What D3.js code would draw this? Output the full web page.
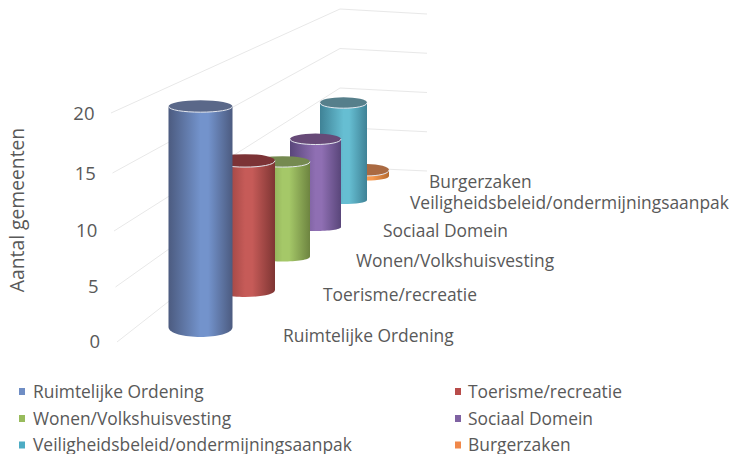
<!DOCTYPE html>
<html><head><meta charset="utf-8">
<script src="https://cdn.jsdelivr.net/npm/d3@7"></script>
<style>html,body{margin:0;padding:0;background:#fff}svg{display:block}text{font-family:"Open Sans",sans-serif;fill:#595959}</style>
</head><body><svg id="c" width="732" height="454"></svg>
<script>
const categories=["Ruimtelijke Ordening","Toerisme/recreatie","Wonen/Volkshuisvesting","Sociaal Domein","Veiligheidsbeleid/ondermijningsaanpak","Burgerzaken"];
const values=[20,12.5,10,10,12,0.8];
const ticks=[0,5,10,15,20];
const edgeColors=["#4c5b80","#7e3533","#6d8440","#59467a","#3f8296","#b56a30"];
const midColors=["#7393cc","#c65b58","#a5c868","#8f6fb3","#66bed2","#f79a50"];
const topColors=["#5a6889","#7c3336","#758a50","#674a78","#567f8b","#aa6a42"];
const legendSwatch=["#6f8dc4","#b84c4a","#98bb5c","#7f62a2","#4dacc4","#f0884a"];

const svg=d3.select("#c"),idx=categories.map((_,i)=>i);
const cx=d3.scaleOrdinal(idx,[200.5,245,282.5,315.5,343.5,367]);
const rx=d3.scaleOrdinal(idx,[32,30,27.5,25.5,23.5,22]);
const base=d3.scaleOrdinal(idx,[327,290,256.5,227,200,176]);
const ryBottom=d3.scaleOrdinal(idx,[10,7,5,4,4,4.5]);
const ryTop=d3.scaleOrdinal(idx,[6,6.5,5.5,5.5,5.5,6]);
const unit=i=>rx(i)*0.345;

const frontY=d3.scaleLinear(ticks,[342,287,231,173,113]);
const frontX=d3.scaleLinear([0,20],[117,111]);
const backY=d3.scaleLinear([0,20],[167,9]);
const wallY=d3.scaleLinear([0,20],[171,14]);
const backX=340,wallX=427;
const grid=svg.append("g").attr("fill","none").attr("stroke","#e8e8e8").attr("stroke-width",1);
ticks.forEach(t=>grid.append("path").attr("d",d3.line()([[frontX(t),frontY(t)],[backX,backY(t)],[wallX,wallY(t)]])));

const labelY=d3.scaleLinear(ticks,[342,287,231,174,114]);
const labelX=d3.scaleLinear([0,20],[100,94.5]);
svg.append("g").selectAll("text").data(ticks).join("text")
  .attr("x",labelX).attr("y",labelY).attr("dy","0.35em").attr("text-anchor","end")
  .attr("font-size",18.5).text(d=>d);
svg.append("text").attr("transform","translate(24,210) rotate(-90)").attr("text-anchor","middle").attr("font-size",19.3).text("Aantal gemeenten");

const defs=svg.append("defs");
idx.forEach(i=>{
  const g=defs.append("linearGradient").attr("id","g"+i).attr("x1",0).attr("x2",1).attr("y1",0).attr("y2",0);
  [[0,edgeColors[i]],[.5,midColors[i]],[.62,midColors[i]],[1,edgeColors[i]]].forEach(([o,c])=>g.append("stop").attr("offset",o).attr("stop-color",c));
});
// Far to near, so near cylinders cover the far ones
idx.slice().reverse().forEach(i=>{
  const c=cx(i),r=rx(i),b=base(i),t=b-values[i]*unit(i),rb=ryBottom(i),rt=ryTop(i);
  const p=d3.path();
  p.moveTo(c-r,t);p.lineTo(c-r,b);
  p.bezierCurveTo(c-r,b+rb*1.33,c+r,b+rb*1.33,c+r,b);
  p.lineTo(c+r,t);p.closePath();
  svg.append("path").attr("d",p).attr("fill",`url(#g${i})`);
  svg.append("ellipse").attr("cx",c).attr("cy",t).attr("rx",r).attr("ry",rt).attr("fill",topColors[i]);
  const rim=d3.path();
  rim.moveTo(c-r,t);rim.bezierCurveTo(c-r,t+rt*1.33,c+r,t+rt*1.33,c+r,t);
  svg.append("path").attr("d",rim).attr("fill","none").attr("stroke","#e4e7ee").attr("stroke-width",1);
});

const catLabelX=[283,323,356,383,410,429],catLabelY=[336,295,261,231,203,182];
svg.append("g").selectAll("text").data(categories).join("text")
  .attr("x",(_,i)=>catLabelX[i]).attr("y",(_,i)=>catLabelY[i]).attr("dy","0.35em").attr("font-size",17.4).text(d=>d);

const swatchX=[19,455],textX=[33,468],legY=[391.5,418.5,445];
idx.forEach(i=>{
  const ly=legY[Math.floor(i/2)];
  svg.append("rect").attr("x",swatchX[i%2]).attr("y",ly-3.5).attr("width",6).attr("height",7).attr("fill",legendSwatch[i]);
  svg.append("text").attr("x",textX[i%2]).attr("y",ly).attr("dy","0.35em").attr("font-size",17.4).text(categories[i]);
});
</script></body></html>
